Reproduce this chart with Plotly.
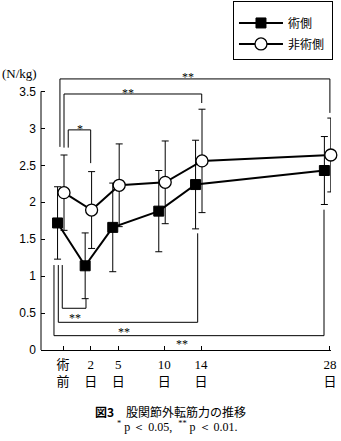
import plotly.graph_objects as go

# ---- data ----
days = [-1, 2, 5, 10, 14, 28]
tick_text = ["術<br>前", "2<br>日", "5<br>日", "10<br>日", "14<br>日", "28<br>日"]
op_mean = [1.72, 1.14, 1.66, 1.88, 2.24, 2.43]
op_sd = [0.49, 0.445, 0.60, 0.55, 0.60, 0.46]
nonop_mean = [2.13, 1.895, 2.23, 2.27, 2.56, 2.64]
nonop_sd = [0.51, 0.52, 0.56, 0.56, 0.70, 0.50]
series_names = ["術側", "非術側"]
y_ticks = [0, 0.5, 1, 1.5, 2, 2.5, 3, 3.5]

# horizontal dodge of the two series (days)
op_shift = -0.6
nonop_shift = 0.1
op_x = [d + op_shift for d in days]
nonop_x = [d + nonop_shift for d in days]

# significance brackets: (x_left, x_right, y_bar, y_left_end, y_right_end, label, label_x, label_y)
brackets = [
    (-1.34, 28.0, 3.67, 2.75, 3.21, "**", 12.6, 3.70),
    (-0.90, 14.07, 3.466, 2.74, 3.344, "**", 6.05, 3.48),
    (-0.44, 2.0, 2.98, 2.74, 2.53, "*", 0.84, 2.99),
    (-1.09, 1.49, 0.565, 1.15, 0.69, "**", 0.29, 0.44),
    (-1.52, 13.63, 0.375, 1.15, 1.58, "**", 5.62, 0.25),
    (-1.99, 27.36, 0.194, 1.15, 1.90, "**", 11.89, 0.075),
]

fig = go.Figure()

fig.add_trace(go.Scatter(
    x=op_x, y=op_mean, name=series_names[0] + "\u00a0", mode="lines+markers",
    line=dict(color="black", width=2),
    marker=dict(symbol="square", size=10, color="black", line=dict(color="black", width=1)),
    error_y=dict(type="data", array=op_sd, visible=True, color="black", thickness=1, width=3.5),
    legendgroup="a", cliponaxis=False,
))
fig.add_trace(go.Scatter(
    x=nonop_x, y=nonop_mean, name=series_names[1] + "\u00a0", mode="lines+markers",
    line=dict(color="black", width=2),
    marker=dict(symbol="circle", size=12, color="white", line=dict(color="black", width=1.3)),
    error_y=dict(type="data", array=nonop_sd, visible=True, color="black", thickness=1, width=3.5),
    legendgroup="b", cliponaxis=False,
))

shapes = []
annotations = []
for xl, xr, yb, yl, yr, lab, lx, ly in brackets:
    shapes.append(dict(type="path", xref="x", yref="y",
                       path=f"M {xl},{yl} L {xl},{yb} L {xr},{yb} L {xr},{yr}",
                       line=dict(color="black", width=1)))
    annotations.append(dict(x=lx, y=ly, xref="x", yref="y", text=lab, showarrow=False,
                            font=dict(family="Liberation Serif", size=12, color="black"),
                            xanchor="center", yanchor="middle"))

# y axis line from 0 to 3.5
shapes.append(dict(type="line", xref="paper", yref="y", x0=0, x1=0, y0=0, y1=3.5,
                   line=dict(color="black", width=1), layer="above"))

annotations.append(dict(x=-0.074, y=0.972, xref="paper", yref="paper", text="(N/kg)",
                        showarrow=False, font=dict(family="Liberation Serif", size=13, color="black"),
                        xanchor="center", yanchor="middle"))
annotations.append(dict(x=0.445, y=-0.215, xref="paper", yref="paper",
                        text="<b>図3</b>　股関節外転筋力の推移",
                        showarrow=False, font=dict(family="Noto Sans CJK JP", size=12, color="black"),
                        xanchor="center", yanchor="middle"))
annotations.append(dict(x=0.471, y=-0.268, xref="paper", yref="paper",
                        text="<sup>*</sup> p ＜ 0.05,  <sup>**</sup> p ＜ 0.01.",
                        showarrow=False, font=dict(family="Liberation Serif", size=12, color="black"),
                        xanchor="center", yanchor="middle"))

fig.update_layout(
    width=341, height=441,
    margin=dict(l=41, r=10, t=66, b=91, autoexpand=False),
    paper_bgcolor="white", plot_bgcolor="white",
    showlegend=True,
    legend=dict(x=0.662, y=1.229, xanchor="left", yanchor="top",
                bordercolor="black", borderwidth=1, bgcolor="white",
                font=dict(family="Noto Sans CJK JP", size=12, color="black"),
                traceorder="grouped", tracegroupgap=2, itemwidth=44,
                title=dict(text="\u00a0", font=dict(size=5))),
    shapes=shapes, annotations=annotations,
    xaxis=dict(range=[-3.4, 28.12], tickmode="array", tickvals=days, ticktext=tick_text,
               showline=True, linecolor="black", linewidth=1, ticks="inside", ticklen=4,
               tickcolor="black", showgrid=False, zeroline=False, ticklabelstandoff=2,
               tickfont=dict(family="Liberation Serif, Noto Sans CJK JP", size=13, color="black")),
    yaxis=dict(range=[0, 3.845], tickmode="array", tickvals=y_ticks,
               ticktext=[f"{v:g}" for v in y_ticks],
               showline=False, ticks="inside", ticklen=4, tickcolor="black",
               showgrid=False, zeroline=False, ticklabelstandoff=4,
               tickfont=dict(family="Liberation Sans", size=12, color="black")),
)

fig.write_html("out.html")
